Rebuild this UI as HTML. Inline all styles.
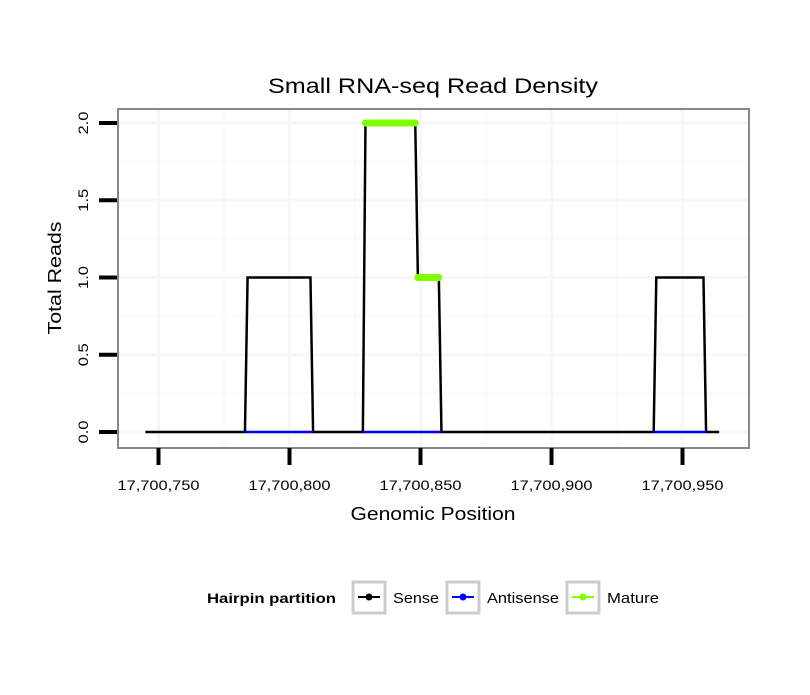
<!DOCTYPE html>
<html><head><meta charset="utf-8"><style>
body{margin:0;background:#fff}
svg text{font-family:"Liberation Sans",sans-serif}
</style></head><body>
<svg id="chart" width="810" height="690" xmlns="http://www.w3.org/2000/svg">
<rect width="810" height="690" fill="#fff"/>
<text x="433" y="93" font-size="21" text-anchor="middle" textLength="330" lengthAdjust="spacingAndGlyphs">Small RNA-seq Read Density</text>
<g id="grid"></g>
<g id="series"></g>
<rect x="118" y="109" width="631" height="339" fill="none" stroke="#888" stroke-width="2"/>
<g id="axes"></g>
<text x="433" y="520" font-size="18" text-anchor="middle" textLength="165" lengthAdjust="spacingAndGlyphs">Genomic Position</text>
<text transform="translate(61,278) rotate(-90)" font-size="18" text-anchor="middle" textLength="113" lengthAdjust="spacingAndGlyphs">Total Reads</text>
<g>
<text x="207" y="603" font-size="14" font-weight="bold" textLength="129" lengthAdjust="spacingAndGlyphs">Hairpin partition</text>
<g>
<rect x="353" y="582" width="32" height="31" fill="#fff" stroke="#ccc" stroke-width="3"/>
<line x1="358" y1="597" x2="380" y2="597" stroke="#000" stroke-width="2"/><circle cx="369" cy="597" r="3.5" fill="#000"/>
<text x="393" y="603" font-size="15" textLength="46" lengthAdjust="spacingAndGlyphs">Sense</text></g>
<g>
<rect x="447" y="582" width="32" height="31" fill="#fff" stroke="#ccc" stroke-width="3"/>
<line x1="452" y1="597" x2="474" y2="597" stroke="#00f" stroke-width="2"/><circle cx="463" cy="597" r="3.5" fill="#00f"/>
<text x="487" y="603" font-size="15" textLength="72" lengthAdjust="spacingAndGlyphs">Antisense</text></g>
<g>
<rect x="567" y="582" width="32" height="31" fill="#fff" stroke="#ccc" stroke-width="3"/>
<line x1="572" y1="597" x2="594" y2="597" stroke="#7fff00" stroke-width="2"/><circle cx="583" cy="597" r="3.5" fill="#7fff00"/>
<text x="607" y="603" font-size="15" textLength="52" lengthAdjust="spacingAndGlyphs">Mature</text></g>
</g>
</svg>
<script>
const xTicks=[17700750,17700800,17700850,17700900,17700950];
const xTickLabels=["17,700,750","17,700,800","17,700,850","17,700,900","17,700,950"];
const yTicks=[0,0.5,1,1.5,2];
const yTickLabels=["0.0","0.5","1.0","1.5","2.0"];
const base=17700000;
const sensePos=[745,783,784,808,809,828,829,848,849,857,858,939,940,958,959,964];
const senseVal=[0,0,1,1,0,0,2,2,1,1,0,0,1,1,0,0];
const antisenseStart=[783,828,939];
const antisenseEnd=[809,858,959];
const matureStart=[829,849];
const matureEnd=[848,857];
const matureVal=[2,1];

const NS="http://www.w3.org/2000/svg";
function X(v){return 158.5+(v-17700750)*2.62;}
function Y(v){return 432-v*154.5;}
function mk(tag,attrs,parent){const e=document.createElementNS(NS,tag);for(const k in attrs)e.setAttribute(k,attrs[k]);parent.appendChild(e);return e;}
const grid=document.getElementById('grid'),axes=document.getElementById('axes'),series=document.getElementById('series');
for(let i=0;i<xTicks.length-1;i++){const m=(xTicks[i]+xTicks[i+1])/2;const l=mk('line',{x1:X(m),x2:X(m),y1:109,y2:448,stroke:'#fbfbfb','stroke-width':2},grid);
}
for(let i=0;i<yTicks.length-1;i++){const m=(yTicks[i]+yTicks[i+1])/2;const l=mk('line',{x1:118,x2:749,y1:Y(m),y2:Y(m),stroke:'#fbfbfb','stroke-width':2},grid);
}
xTicks.forEach((t,i)=>{const l=mk('line',{x1:X(t),x2:X(t),y1:109,y2:448,stroke:'#f7f7f7','stroke-width':3},grid);

const tk=mk('line',{x1:X(t),x2:X(t),y1:448,y2:465,stroke:'#000','stroke-width':4},axes);

const tx=mk('text',{x:X(t),y:490,'font-size':14,'text-anchor':'middle',textLength:82,lengthAdjust:'spacingAndGlyphs'},axes);tx.textContent=xTickLabels[i];
});
yTicks.forEach((t,i)=>{const l=mk('line',{x1:118,x2:749,y1:Y(t),y2:Y(t),stroke:'#f7f7f7','stroke-width':3},grid);

const tk=mk('line',{x1:99,x2:117,y1:Y(t),y2:Y(t),stroke:'#000','stroke-width':4},axes);

const tx=mk('text',{transform:`translate(88,${Y(t)}) rotate(-90)`,'font-size':14,'text-anchor':'middle',textLength:23,lengthAdjust:'spacingAndGlyphs'},axes);tx.textContent=yTickLabels[i];
});
const sp=mk('polyline',{points:sensePos.map((p,i)=>X(base+p)+','+Y(senseVal[i])).join(' '),fill:'none',stroke:'#000','stroke-width':2.5},series);

antisenseStart.forEach((s,i)=>{const l=mk('line',{x1:X(base+s),x2:X(base+antisenseEnd[i]),y1:Y(0),y2:Y(0),stroke:'#00f','stroke-width':2.5},series);
});
matureStart.forEach((s,i)=>{const l=mk('line',{x1:X(base+s),x2:X(base+matureEnd[i]),y1:Y(matureVal[i]),y2:Y(matureVal[i]),stroke:'#7fff00','stroke-width':7,'stroke-linecap':'round'},series);
});
</script>
</body></html>
